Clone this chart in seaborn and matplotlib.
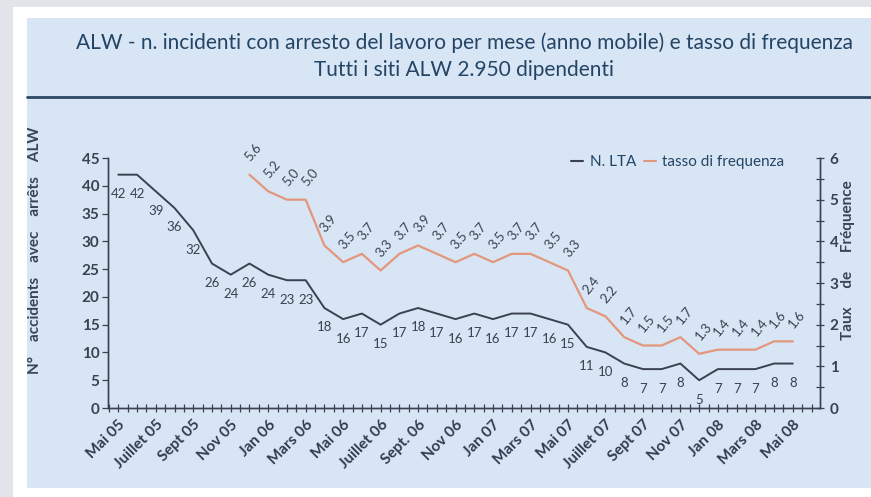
"""
ALW - lost time accidents per month (rolling year) and frequency rate.
"""

import numpy as np
import pandas as pd
import matplotlib
matplotlib.use("Agg")
import matplotlib.pyplot as plt
from matplotlib.patches import Rectangle
from matplotlib.lines import Line2D
from matplotlib.ticker import MultipleLocator
from matplotlib.transforms import ScaledTranslation
import seaborn as sns

sns.set_style("white")
plt.rcParams['font.family'] = ['Lato', 'DejaVu Sans']

# Data
month_labels = ["Mai 05", "Juillet 05", "Sept 05", "Nov 05", "Jan 06", "Mars 06",
                "Mai 06", "Juillet 06", "Sept. 06", "Nov 06", "Jan 07", "Mars 07",
                "Mai 07", "Juillet 07", "Sept 07", "Nov 07", "Jan 08", "Mars 08",
                "Mai 08"]
lta_values = [42, 42, 39, 36, 32, 26, 24, 26, 24, 23, 23, 18, 16, 17, 15, 17, 18,
              17, 16, 17, 16, 17, 17, 16, 15, 11, 10, 8, 7, 7, 8, 5, 7, 7, 7, 8, 8]
freq_start = 7
freq_values = [5.6, 5.2, 5.0, 5.0, 3.9, 3.5, 3.7, 3.3, 3.7, 3.9, 3.7, 3.5, 3.7,
               3.5, 3.7, 3.7, 3.5, 3.3, 2.4, 2.2, 1.7, 1.5, 1.5, 1.7, 1.3, 1.4,
               1.4, 1.4, 1.6, 1.6]

lta_df = pd.DataFrame({"month": np.arange(len(lta_values)), "value": lta_values})
freq_df = pd.DataFrame({"month": np.arange(freq_start, freq_start + len(freq_values)),
                        "value": freq_values})

# Colours
BG = "#e2e4ea"
PANEL = "#d8e5f4"
DARK = "#3a4150"
ORANGE = "#e3977c"
BLUE_TXT = "#234565"

W, H = 871, 497
fig = plt.figure(figsize=(W / 100, H / 100), dpi=100, facecolor=BG)

# frame and panel
fig.patches.append(Rectangle((13 / W, 0), 1, 1 - 7 / H, transform=fig.transFigure,
                             facecolor="white", edgecolor="none", zorder=-3))
fig.patches.append(Rectangle((27 / W, 1 - 488 / H), 1, (488 - 18) / H,
                             transform=fig.transFigure, facecolor=PANEL,
                             edgecolor="none", zorder=-2))
fig.add_artist(Line2D([27 / W, 1], [1 - 97 / H, 1 - 97 / H], transform=fig.transFigure,
                      color="#2d4866", lw=2))

fig.text(464 / W, 1 - 43 / H,
         "ALW - n. incidenti con arresto del lavoro per mese (anno mobile) e tasso di frequenza",
         ha="center", va="center", fontsize=15, color=BLUE_TXT)
fig.text(464 / W, 1 - 70 / H, "Tutti i siti ALW 2.950 dipendenti",
         ha="center", va="center", fontsize=15, color=BLUE_TXT)

ax = fig.add_axes([108 / W, 1 - 408 / H, (820 - 108) / W, (408 - 158) / H])
ax.patch.set_alpha(0)
ax2 = ax.twinx()
ax2.patch.set_alpha(0)

sns.lineplot(data=lta_df, x="month", y="value", ax=ax, color=DARK, lw=1.4)
sns.lineplot(data=freq_df, x="month", y="value", ax=ax2, color=ORANGE, lw=1.6)

ax.set_xlim(-0.55, 37.45)
ax.set_ylim(0, 45)
ax2.set_ylim(0, 6)

# point labels
for m, v in zip(lta_df["month"], lta_df["value"]):
    ax.annotate(str(v), (m, v), xytext=(0, -14), textcoords="offset points",
                ha="center", va="center", fontsize=9.5, color=DARK,
                annotation_clip=False)
for m, v in zip(freq_df["month"], freq_df["value"]):
    ax2.annotate(f"{v:.1f}", (m, v), xytext=(3, 16), textcoords="offset points",
                 ha="center", va="center", fontsize=9.5, color=DARK, rotation=50,
                 annotation_clip=False)

# axes styling
for a in (ax, ax2):
    a.spines["top"].set_visible(False)
    for s in ("left", "right", "bottom"):
        a.spines[s].set_color(DARK)
        a.spines[s].set_linewidth(1.0)
    a.set_xlabel("")
    a.set_ylabel("")

ax.set_xticks(np.arange(0, 37, 2))
ax.set_xticklabels(month_labels, rotation=45, ha="right", rotation_mode="anchor",
                   fontsize=11, fontweight="bold", color="#2f3c52")
shift = ScaledTranslation(7 / 100, -4 / 100, fig.dpi_scale_trans)
for t in ax.get_xticklabels():
    t.set_transform(t.get_transform() + shift)
ax.xaxis.set_minor_locator(MultipleLocator(0.5))
ax.tick_params(axis="x", which="both", direction="inout", length=6, width=0.9,
               color=DARK, pad=4, bottom=True)
ax.yaxis.set_major_locator(MultipleLocator(5))
ax.tick_params(axis="y", direction="out", length=4, width=0.9, color=DARK,
               labelsize=11, labelcolor=DARK, left=True, pad=2)
for t in ax.get_yticklabels():
    t.set_fontweight("bold")

ax2.yaxis.set_major_locator(MultipleLocator(1))
ax2.yaxis.set_minor_locator(MultipleLocator(0.5))
ax2.tick_params(axis="y", which="both", direction="inout", length=6, width=0.9,
                color=DARK, labelsize=11, labelcolor=DARK, right=True, pad=4)
for t in ax2.get_yticklabels():
    t.set_fontweight("bold")

fig.text(35 / W, 1 - 250 / H, "N°    accidents    avec    arrêts    ALW",
         rotation=90, ha="center", va="center", fontsize=11, fontweight="bold",
         color="#3a4458")
fig.text(848 / W, 1 - 260 / H, "Taux     de     Fréquence",
         rotation=90, ha="center", va="center", fontsize=11, fontweight="bold",
         color="#3a4458")

handles = [Line2D([], [], color=DARK, lw=1.5), Line2D([], [], color=ORANGE, lw=1.5)]
ax.legend(handles, ["N. LTA", "tasso di frequenza"], loc="center",
          bbox_to_anchor=(0.80, 0.984), ncol=2, frameon=False, handlelength=0.8,
          handletextpad=0.4, columnspacing=0.5, prop={"size": 11},
          labelcolor=BLUE_TXT)

fig.savefig("out.png", dpi=100, facecolor=BG)
